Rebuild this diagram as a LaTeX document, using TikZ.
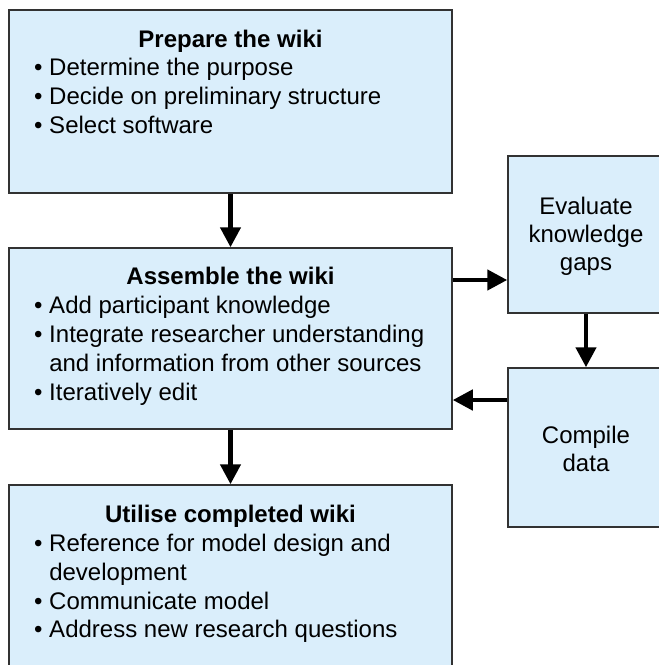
\documentclass[tikz,border=0pt]{standalone}
\usepackage{fontspec}
\setmainfont{Liberation Sans}
\usetikzlibrary{arrows.meta}
\definecolor{boxfill}{RGB}{218,238,251}
\definecolor{boxline}{RGB}{50,50,50}
\begin{document}
\begin{tikzpicture}[x=1pt,y=-1pt,
  wbox/.style={draw=boxline, line width=1.5pt, fill=boxfill, rectangle, inner sep=0pt},
  txt/.style={anchor=base west, inner sep=0pt, font=\fontsize{24}{28}\selectfont},
  ttl/.style={anchor=base, inner sep=0pt, font=\fontsize{24}{28}\selectfont\bfseries},
  ctr/.style={anchor=base, inner sep=0pt, font=\fontsize{24}{28}\selectfont},
  flow/.style={line width=4.5pt, -{Triangle[width=20pt,length=20pt]}}]
\useasboundingbox (0,0) rectangle (659,665);
\clip (0,0) rectangle (659,665);
% boxes
\node[wbox, minimum width=443pt, minimum height=183pt] (b1) at (230.5,101.5) {};
\node[wbox, minimum width=443pt, minimum height=181pt] (b2) at (230.5,338.5) {};
\node[wbox, minimum width=443pt, minimum height=215pt] (b3) at (230.5,592.5) {};
\node[wbox, minimum width=156pt, minimum height=157pt] (b4) at (586,234.5) {};
\node[wbox, minimum width=156pt, minimum height=159pt] (b5) at (586,447.5) {};
% box 1 text
\node[ttl] (t1) at (230.5,47.3) {Prepare the wiki};
\node[txt] (t1a) at (34,75.5) {•\ Determine the purpose};
\node[txt] (t1b) at (34,104) {•\ Decide on preliminary structure};
\node[txt] (t1c) at (34,133) {•\ Select software};
% box 2 text
\node[ttl] (t2) at (230.5,284.3) {Assemble the wiki};
\node[txt] (t2a) at (34,313.3) {•\ Add participant knowledge};
\node[txt] (t2b) at (34,342.2) {•\ Integrate researcher understanding};
\node[txt] (t2c) at (49.1,371) {and information from other sources};
\node[txt] (t2d) at (34,400) {•\ Iteratively edit};
% box 3 text
\node[ttl] (t3) at (230.5,522.3) {Utilise completed wiki};
\node[txt] (t3a) at (34,551.5) {•\ Reference for model design and};
\node[txt] (t3b) at (49.1,580) {development};
\node[txt] (t3c) at (34,609) {•\ Communicate model};
\node[txt] (t3d) at (34,637.7) {•\ Address new research questions};
% box 4 and 5 text
\node[ctr] (t4a) at (586,214.5) {Evaluate};
\node[ctr] (t4b) at (586,242) {knowledge};
\node[ctr] (t4c) at (586,270) {gaps};
\node[ctr] (t5a) at (586,443.5) {Compile};
\node[ctr] (t5b) at (586,471) {data};
% arrows
\draw[flow] (b1.south) -- (b2.north);
\draw[flow] (b2.south) -- (b3.north);
\draw[flow] (b2.east |- 0,280) -- (b4.west |- 0,280);
\draw[flow] (b4.south) -- (b5.north);
\draw[flow] (b5.west |- 0,400) -- (b2.east |- 0,400);
\end{tikzpicture}
\end{document}
